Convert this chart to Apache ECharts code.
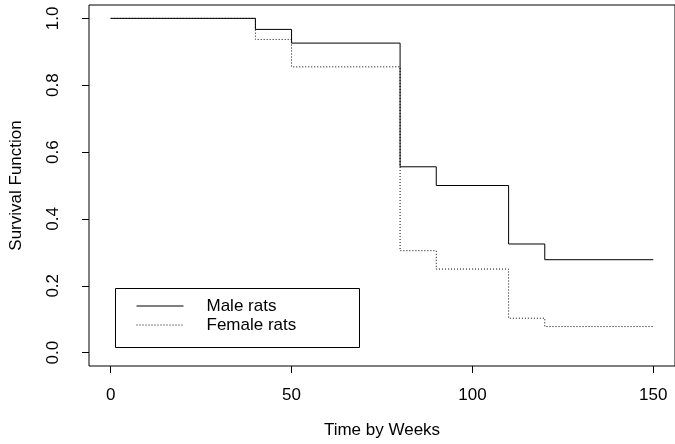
<!DOCTYPE html>
<html>
<head>
<meta charset="utf-8">
<script src="https://cdn.jsdelivr.net/npm/echarts@6/dist/echarts.min.js"></script>
<style>html,body{margin:0;padding:0;background:#fff}#c{width:675px;height:444px}</style>
</head>
<body>
<div id="c"></div>
<script>
var weeks = [0, 40, 50, 80, 90, 110, 120, 150];
var maleSurv = [1.0, 0.967, 0.926, 0.556, 0.500, 0.325, 0.278, 0.278];
var femaleSurv = [1.0, 0.937, 0.855, 0.305, 0.250, 0.103, 0.078, 0.078];
var xTicks = [0, 50, 100, 150];
var yTicks = [0, 0.2, 0.4, 0.6, 0.8, 1.0];
var yTickLabels = ['0.0', '0.2', '0.4', '0.6', '0.8', '1.0'];
var seriesNames = ['Male rats', 'Female rats'];

function pairs(xs, ys) { return xs.map(function (x, i) { return [x, ys[i]]; }); }

var FONT = 'Liberation Sans, Arial, Helvetica, sans-serif';
var chart = echarts.init(document.getElementById('c'), null, {renderer: 'canvas'});
chart.setOption({
  animation: false,
  backgroundColor: '#fff',
  grid: {left: 88, top: 5, width: 593, height: 362, show: true, borderColor: '#000', borderWidth: 1, backgroundColor: 'transparent'},
  xAxis: {
    type: 'value', min: -6, max: 156,
    axisLine: {show: false, onZero: false},
    splitLine: {show: false},
    axisTick: {show: true, length: 7, lineStyle: {color: '#000'}, customValues: xTicks},
    axisLabel: {color: '#000', fontSize: 17, fontFamily: FONT, margin: 21, customValues: xTicks},
    name: 'Time by Weeks', nameLocation: 'middle', nameGap: 56,
    nameTextStyle: {color: '#000', fontSize: 17, fontFamily: FONT}
  },
  yAxis: {
    type: 'value', min: -0.04, max: 1.04,
    axisLine: {show: false, onZero: false},
    splitLine: {show: false},
    axisTick: {show: true, length: 7, lineStyle: {color: '#000'}, customValues: yTicks},
    axisLabel: {color: '#000', fontSize: 17, fontFamily: FONT, margin: 27, rotate: 90,
      customValues: yTicks,
      formatter: function (v) { var i = yTicks.indexOf(Math.round(v * 10) / 10); return i >= 0 ? yTickLabels[i] : v.toFixed(1); }},
    name: 'Survival Function', nameLocation: 'middle', nameGap: 64, nameRotate: 90,
    nameTextStyle: {color: '#000', fontSize: 17, fontFamily: FONT}
  },
  legend: {
    show: true, orient: 'vertical', left: 136, top: 297.5,
    itemWidth: 47, itemHeight: 14, itemGap: 2,
    padding: [0, 0, 0, 0],
    itemStyle: {opacity: 0},
    lineStyle: {width: 1},
    textStyle: {color: '#000', fontSize: 17, fontFamily: FONT, padding: [0, 0, 0, 18]},
    data: seriesNames
  },
  graphic: [{
    type: 'rect', left: 113, top: 286, z: 100,
    shape: {width: 244, height: 59},
    style: {fill: 'none', stroke: '#000', lineWidth: 1}
  }],
  series: [{
    name: seriesNames[0], type: 'line', step: 'end', symbol: 'none',
    data: pairs(weeks, maleSurv),
    lineStyle: {color: '#000', width: 1, type: 'solid'},
    itemStyle: {color: '#000'}
  }, {
    name: seriesNames[1], type: 'line', step: 'end', symbol: 'none',
    data: pairs(weeks, femaleSurv),
    lineStyle: {color: '#000', width: 1, type: [1, 2]},
    itemStyle: {color: '#000'}
  }]
});
</script>
</body>
</html>
